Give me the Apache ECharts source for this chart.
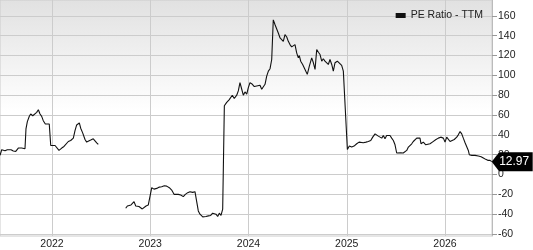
<!DOCTYPE html>
<html>
<head>
<meta charset="utf-8">
<script src="https://cdn.jsdelivr.net/npm/echarts@6/dist/echarts.min.js"></script>
<style>html,body{margin:0;padding:0;background:#fff}#c{width:533px;height:250px}</style>
</head>
<body>
<div id="c"></div>
<script>
// x values are dates as decimal years
const dates = [
  2021.471,2021.488,2021.504,2021.522,2021.545,2021.565,2021.583,2021.606,2021.631,2021.657,
  2021.674,2021.692,2021.708,2021.725,2021.735,2021.749,2021.769,2021.783,2021.804,2021.820,
  2021.844,2021.861,2021.878,2021.895,2021.911,2021.932,2021.952,2021.972,2021.987,2022.007,
  2022.031,2022.048,2022.071,2022.099,2022.122,2022.142,2022.166,2022.190,2022.217,2022.234,
  2022.251,2022.278,2022.292,2022.312,2022.336,2022.353,2022.369,2022.394,2022.420,2022.438,
  2022.455,2022.471,
  2022.600,
  2022.750,2022.767,2022.787,2022.804,2022.821,2022.835,2022.852,2022.868,2022.885,2022.903,
  2022.919,2022.936,2022.957,2022.980,2022.997,2023.015,2023.038,2023.066,2023.092,2023.116,
  2023.143,2023.167,2023.194,2023.218,2023.242,2023.262,2023.285,2023.310,2023.336,2023.357,
  2023.381,2023.404,2023.432,2023.455,2023.473,2023.489,2023.506,2023.534,2023.567,2023.591,
  2023.615,2023.635,2023.652,2023.669,2023.686,2023.703,2023.720,2023.737,2023.748,2023.754,
  2023.778,2023.802,2023.822,2023.835,2023.855,2023.880,2023.896,2023.913,2023.931,2023.947,
  2023.964,2023.982,2023.998,2024.015,2024.039,2024.059,2024.083,2024.100,2024.117,2024.134,
  2024.151,2024.168,2024.185,2024.202,2024.219,2024.236,2024.252,2024.270,2024.287,2024.303,
  2024.321,2024.338,2024.354,2024.371,2024.389,2024.405,2024.422,2024.439,2024.456,2024.473,
  2024.490,2024.507,2024.517,2024.531,2024.551,2024.575,2024.598,2024.619,2024.643,2024.660,
  2024.677,2024.694,2024.711,2024.728,2024.745,2024.761,2024.778,2024.796,2024.812,2024.829,
  2024.847,2024.863,2024.880,2024.904,2024.924,2024.948,2024.965,2024.982,2025.006,2025.026,
  2025.050,2025.074,2025.101,2025.125,2025.145,2025.168,2025.196,2025.219,2025.244,2025.264,
  2025.288,2025.305,2025.321,2025.338,2025.356,2025.372,2025.389,2025.406,2025.423,2025.440,
  2025.457,2025.474,2025.491,2025.508,2025.525,2025.549,2025.575,2025.593,2025.610,2025.627,
  2025.644,2025.661,2025.677,2025.695,2025.712,2025.728,2025.745,2025.756,2025.779,2025.804,
  2025.824,2025.847,2025.871,2025.891,2025.908,2025.932,2025.956,2025.983,2026.000,2026.017,
  2026.033,2026.051,2026.068,2026.094,2026.119,2026.135,2026.153,2026.170,2026.186,2026.204,
  2026.221,2026.237,2026.247,2026.272,2026.305,2026.339,2026.367,2026.390,2026.414,2026.435,
  2026.458,2026.475
];
const peRatio = [
  19.3,25,24,24,25,24,25,23.7,23.3,26.7,
  25,26.7,25.3,26,46,53.3,58.7,61,59.3,57.7,
  62.7,65.3,61,58.7,54.3,51,52,51,29.3,27.7,
  29.3,27.7,24.3,26.7,28.3,30,33.3,34.3,36.7,44.3,
  50,52,46.7,42,35.3,32.7,34.3,34.7,36,34.3,
  32,30.3,
  null,
  -34,-31.7,-30,-30.7,-29,-27.3,-31.7,-30,-32.3,-31.3,
  -34.7,-33,-31.7,-30.7,-29,-13.3,-14.7,-14,-12.7,-12.3,
  -11.3,-11.7,-13.3,-15.7,-20,-21.3,-20,-20.7,-22.3,-20,
  -18.3,-17.3,-18,-17.3,-17.7,-36.7,-40,-42.7,-42.3,-41.7,
  -41.3,-39,-40.7,-40,-42.3,-39,-41.3,-35,-33,69.3,
  72.7,75.3,76.7,80,76.7,80,84.3,92.7,86,80,
  83.3,81,87.7,92.7,91,88.7,89.3,87.7,90,86,
  86.7,91,99.3,104.3,106.7,116,156,151,150,142.7,
  137.7,136,134.3,141,138.7,134.3,131,128.7,130,131,
  122.7,117.7,120,114.3,111,106,101,109.3,117.7,112.7,
  106,126,123.3,121,114.3,116.7,114.3,112.7,111,116,
  111,104.3,112.7,114.3,113.3,110,104.3,102.7,25.3,28.7,
  27.7,28.7,31,32.7,31,32,32.7,33.3,34.3,37.7,
  41,40,38.7,37.7,36.7,39.3,36,39.3,41,39.3,
  36.7,34.3,30,21.7,21,22,21.7,21,24.3,27.7,
  28.7,31,33.3,35.3,36.7,37.7,36.7,31,32.7,30,
  28.7,31,32.7,32,35.3,36.7,37.7,36.7,32.7,37.7,
  38.7,33.3,34.3,35.3,37.7,40,43.3,41,36.7,32,
  30,24.3,20,19.3,19.3,18.7,18,16.7,15.3,14.3,
  14.3,12.97
];
const yearTicks = [2022, 2023, 2024, 2025, 2026];
const yTicks = [-60, -40, -20, 0, 20, 40, 60, 80, 100, 120, 140, 160];
const seriesName = 'PE Ratio - TTM';
const lastLabel = '12.97';

const chart = echarts.init(document.getElementById('c'), null, {renderer: 'canvas'});
const data = dates.map((d, i) => [d, peRatio[i]]);
const last = data[data.length - 1];
const font = 'Liberation Sans, Arial, Helvetica, sans-serif';

chart.setOption({
  animation: false,
  textStyle: {fontFamily: font},
  legend: {
    data: [seriesName],
    right: 45, top: 5,
    icon: 'rect', itemWidth: 10, itemHeight: 5, itemGap: 5,
    textStyle: {fontSize: 10.5, color: '#222', fontFamily: font}
  },
  grid: {
    left: 0, top: 0, width: 492, height: 238,
    show: true, borderColor: '#ccc', borderWidth: 1,
    backgroundColor: {
      type: 'linear', x: 0, y: 0, x2: 0, y2: 1,
      colorStops: [{offset: 0, color: '#e1e1e1'}, {offset: 0.47, color: '#ffffff'}, {offset: 1, color: '#ffffff'}]
    }
  },
  xAxis: {
    type: 'value', min: 2021.4707, max: 2026.478,
    axisLine: {show: true, lineStyle: {color: '#ccc'}},
    axisTick: {show: false, customValues: yearTicks},
    splitLine: {show: true, lineStyle: {color: '#ccc', width: 1}},
    axisLabel: {customValues: yearTicks, formatter: v => String(Math.round(v)), fontSize: 10.5, color: '#222', margin: 3, fontFamily: font}
  },
  yAxis: {
    type: 'value', position: 'right', min: -62, max: 176,
    axisLine: {show: true, lineStyle: {color: '#bbb'}},
    axisTick: {show: true, length: 5, lineStyle: {color: '#999'}, customValues: yTicks},
    splitLine: {show: true, lineStyle: {color: '#ccc', width: 1}},
    axisLabel: {customValues: yTicks, fontSize: 10.5, color: '#222', margin: 6, fontFamily: font}
  },
  series: [{
    name: seriesName, type: 'line', data: data,
    showSymbol: false, connectNulls: false,
    lineStyle: {color: '#111', width: 1.1}, itemStyle: {color: '#111'},
    markPoint: {
      silent: true,
      data: [{
        coord: last,
        symbol: 'path://M0,10 L9,0 L50,0 L50,20 L9,20 Z',
        symbolSize: [41, 19],
        symbolOffset: [20.5, 0],
        itemStyle: {color: '#000'},
        label: {show: true, position: 'inside', formatter: lastLabel, color: '#fff', fontSize: 12, offset: [2, 0], fontFamily: font}
      }]
    }
  }]
});
</script>
</body>
</html>
